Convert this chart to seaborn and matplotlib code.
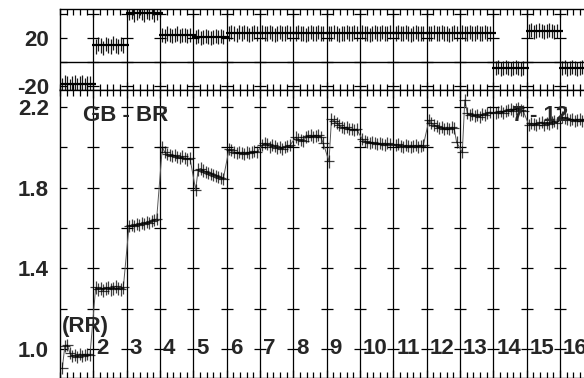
import seaborn as sns
import matplotlib.pyplot as plt
import numpy as np
import pandas as pd

# group numbers (1..16), points per group
groups = list(range(1, 17))

# lower panel: GB - BR ratio per group
gb_br = [
    [0.905, 1.015, 1.02, 0.98, 0.965, 0.97, 0.96, 0.975, 0.965, 0.97, 0.975, 0.97],
    [1.305, 1.295, 1.30, 1.29, 1.30, 1.305, 1.295, 1.30, 1.31, 1.30, 1.295, 1.305],
    [1.61, 1.615, 1.61, 1.62, 1.615, 1.625, 1.62, 1.63, 1.625, 1.635, 1.64, 1.645],
    [2.0, 1.975, 1.965, 1.96, 1.955, 1.96, 1.95, 1.945, 1.955, 1.945, 1.94, 1.945],
    [1.79, 1.89, 1.895, 1.885, 1.88, 1.875, 1.87, 1.865, 1.86, 1.855, 1.85, 1.845],
    [1.99, 1.985, 1.975, 1.97, 1.975, 1.97, 1.965, 1.975, 1.97, 1.975, 1.98, 1.975],
    [2.01, 2.02, 2.015, 2.0, 2.01, 2.005, 1.995, 2.0, 1.99, 2.0, 2.005, 2.01],
    [2.05, 2.04, 2.035, 2.03, 2.05, 2.055, 2.06, 2.05, 2.055, 2.06, 2.05, 2.02],
    [1.93, 2.14, 2.13, 2.12, 2.11, 2.10, 2.095, 2.10, 2.09, 2.09, 2.085, 2.09],
    [2.04, 2.03, 2.025, 2.02, 2.025, 2.02, 2.015, 2.02, 2.015, 2.01, 2.02, 2.015],
    [2.01, 2.015, 2.005, 2.0, 2.01, 2.005, 2.0, 2.005, 2.01, 2.0, 2.005, 2.01],
    [2.135, 2.12, 2.11, 2.105, 2.095, 2.10, 2.09, 2.095, 2.09, 2.10, 2.095, 2.025],
    [1.975, 2.235, 2.17, 2.16, 2.165, 2.155, 2.16, 2.15, 2.165, 2.16, 2.17, 2.175],
    [2.17, 2.175, 2.18, 2.17, 2.18, 2.185, 2.19, 2.18, 2.19, 2.195, 2.185, 2.18],
    [2.11, 2.12, 2.115, 2.11, 2.12, 2.125, 2.11, 2.12, 2.115, 2.125, 2.13, 2.12],
    [2.15, 2.145, 2.14, 2.135, 2.14, 2.13, 2.135, 2.14, 2.13, 2.135, 2.14, 2.13],
]
gb_br_xerr = 0.16
gb_br_yerr = 0.03

# upper panel values per group
upper = [
    [-19, -17, -18, -20, -18, -17, -19, -18, -17, -19, -18, -18],
    [13, 15, 14, 12, 15, 14, 13, 16, 14, 13, 15, 14],
    [41, 42, 40, 41, 43, 41, 40, 42, 41, 42, 40, 41],
    [23, 22, 24, 23, 22, 23, 24, 22, 23, 23, 22, 23],
    [21, 22, 20, 21, 22, 21, 20, 21, 22, 21, 22, 21],
    [24, 25, 24, 23, 25, 24, 25, 24, 23, 24, 25, 24],
    [25, 24, 24, 25, 24, 23, 24, 25, 24, 24, 25, 24],
    [24, 25, 24, 24, 23, 24, 25, 24, 24, 25, 24, 24],
    [24, 24, 25, 24, 23, 24, 24, 25, 24, 24, 25, 24],
    [25, 24, 24, 23, 24, 25, 24, 24, 25, 24, 24, 25],
    [24, 25, 24, 24, 25, 24, 23, 24, 25, 24, 24, 24],
    [24, 24, 25, 24, 24, 25, 24, 24, 23, 24, 25, 24],
    [25, 24, 24, 25, 24, 24, 25, 24, 24, 25, 24, 24],
    [-5, -4, -6, -5, -4, -5, -6, -5, -4, -5, -6, -5],
    [26, 27, 25, 26, 27, 26, 25, 26, 27, 26, 25, 26],
    [-5, -4, -6, -5, -4, -5, -6, -5, -4, -5, -6, -5],
]
upper_yerr = 6.0

group_labels = [str(g) for g in groups[1:]]

# long-format table
rows = []
for g, lo, up in zip(groups, gb_br, upper):
    xs = g - 1 + np.linspace(0.07, 0.9, len(lo))
    for x, a, b in zip(xs, lo, up):
        rows.append({'group': g, 'x': x, 'ratio': a, 'upper': b})
df = pd.DataFrame(rows)

sns.set_style('white')
plt.rcParams['font.family'] = ['Liberation Sans', 'DejaVu Sans']
plt.rcParams['font.weight'] = 'bold'
FS = 16

fig = plt.figure(figsize=(5.84, 3.78), dpi=100)
W, H = 584, 378
x0 = 60
px_per_group = 33.33
xmax = 17
axw = xmax * px_per_group / W
ax_top = fig.add_axes([x0 / W, (H - 89.5) / H, axw, 81 / H])
ax_bot = fig.add_axes([x0 / W, 0.0, axw, (H - 89.5) / H])

# group boundaries: line at g-1 starts group g
bounds = [g - 1 for g in groups[1:]] + [groups[-1]]

for ax in (ax_top, ax_bot):
    ax.set_xlim(0, xmax)
    for s in ax.spines.values():
        s.set_color('black')
        s.set_linewidth(1.0)
    for b in bounds:
        ax.axvline(b, color='black', lw=0.9, zorder=1)
    ax.set_xticks(bounds)
    ax.set_xticks(np.arange(0, xmax, 0.2), minor=True)
    ax.tick_params(axis='x', which='both', direction='in', top=True, bottom=True,
                   labelbottom=False, color='black')
    ax.tick_params(axis='x', which='major', length=6, width=0.9)
    ax.tick_params(axis='x', which='minor', length=4, width=0.9)
    ax.tick_params(axis='y', which='both', direction='in', left=True, length=5,
                   width=0.9, labelsize=FS, pad=8, color='black')

# upper panel
ax_top.set_ylim(-23, 45)
ax_top.axhline(0, color='black', lw=1.0, zorder=1)
ax_top.set_yticks([-20, 20])
ax_top.set_yticks([0, 40], minor=True)
ax_top.set_yticklabels(['-20', '20'], fontweight='bold')
for yv in [-20, 0, 20, 40]:
    ax_top.plot(bounds, [yv] * len(bounds), ls='none', marker='_',
                ms=8, mew=0.9, color='black', zorder=1)
ax_top.errorbar(df['x'], df['upper'], yerr=upper_yerr, fmt='none',
                ecolor='black', elinewidth=0.9, alpha=0.9, zorder=3)
means = df.groupby('group')['upper'].mean()
ax_top.hlines(means.values, means.index - 1.03, means.index + 0.08,
              color='black', lw=1.6, zorder=4)

# lower panel
ax_bot.set_ylim(0.856, 2.287)
ax_bot.set_yticks([1.0, 1.4, 1.8, 2.2])
ax_bot.set_yticks([1.2, 1.6, 2.0], minor=True)
ax_bot.set_yticklabels(['1.0', '1.4', '1.8', '2.2'], fontweight='bold')
for yv in [1.0, 1.2, 1.4, 1.6, 1.8, 2.0, 2.2]:
    ax_bot.plot(bounds, [yv] * len(bounds), ls='none', marker='_',
                ms=8, mew=0.9, color='black', zorder=1)
sns.lineplot(data=df, x='x', y='ratio', sort=False, estimator=None,
             color='0.35', lw=0.7, ax=ax_bot, zorder=2)
ax_bot.errorbar(df['x'], df['ratio'], xerr=gb_br_xerr, yerr=gb_br_yerr, fmt='none',
                ecolor='black', elinewidth=0.9, alpha=0.75, zorder=3)
ax_bot.set_xlabel('')
ax_bot.set_ylabel('')

for g, lab in zip(groups[1:], group_labels):
    ax_bot.text(g - 1 + 0.09, 1.0, lab, fontsize=FS, fontweight='bold',
                ha='left', va='center', zorder=5)
ax_bot.text(0.06, 1.11, '(RR)', fontsize=FS, fontweight='bold', ha='left', va='center', zorder=5)
ax_bot.text(0.69, 2.16, 'GB - BR', fontsize=FS, fontweight='bold', ha='left', va='center', zorder=5)
ax_bot.text(13.56, 2.16, '7', fontsize=FS, fontweight='bold', ha='left', va='center', zorder=5)
ax_bot.text(14.1, 2.16, '- 12', fontsize=FS, fontweight='bold', ha='left', va='center', zorder=5)

fig.savefig('out.png', dpi=100)
